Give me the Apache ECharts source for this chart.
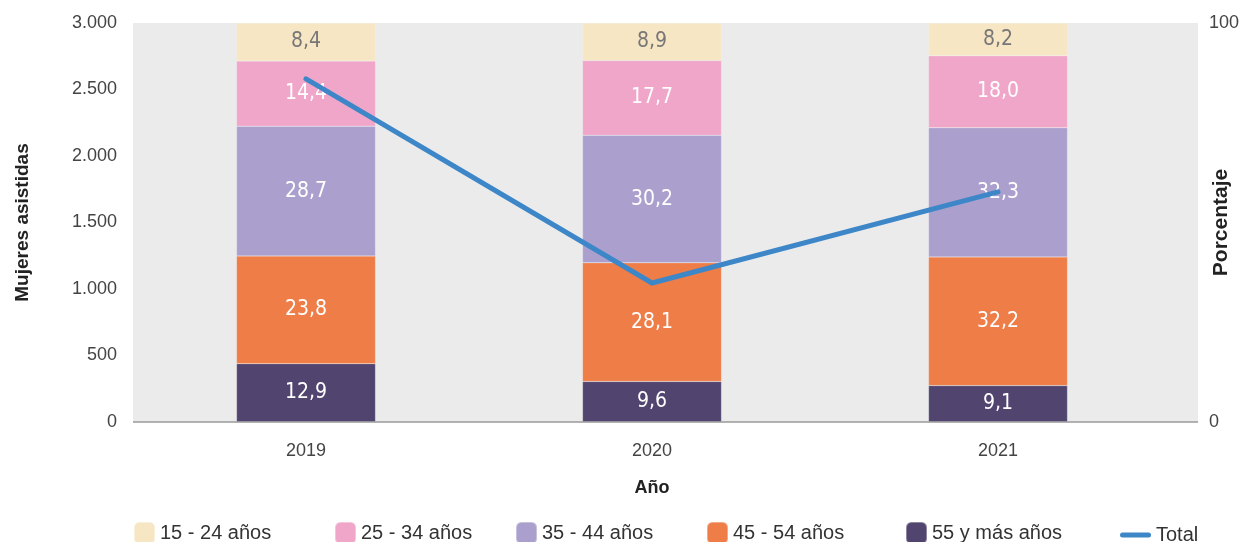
<!DOCTYPE html>
<html>
<head>
<meta charset="utf-8">
<script src="https://cdn.jsdelivr.net/npm/echarts@6/dist/echarts.min.js"></script>
<style>
  html, body { margin: 0; padding: 0; background: #ffffff; }
  #chart { width: 1240px; height: 542px; }
</style>
</head>
<body>
<div id="chart"></div>
<script>
// Data
var years = ['2019', '2020', '2021'];
var ageGroups = ['15 - 24 años', '25 - 34 años', '35 - 44 años', '45 - 54 años', '55 y más años'];
var pct15_24 = [8.4, 8.9, 8.2];
var pct25_34 = [14.4, 17.7, 18.0];
var pct35_44 = [28.7, 30.2, 32.3];
var pct45_54 = [23.8, 28.1, 32.2];
var pct55plus = [12.9, 9.6, 9.1];
var totalWomen = [2580, 1045, 1730];

var groupValues = [pct15_24, pct25_34, pct35_44, pct45_54, pct55plus];
var groupColors = ['#F7E6C4', '#F0A6C9', '#ABA0CD', '#EE7D47', '#514570'];
var labelColors = ['#777777', '#ffffff', '#ffffff', '#ffffff', '#ffffff'];

// bars fill 100% of the right axis: scale each year by its known-age sum
var yearSums = years.map(function (y, i) {
  return groupValues.reduce(function (s, arr) { return s + arr[i]; }, 0);
});

var fmt = function (v) { return v.toFixed(1).replace('.', ','); };

var chart = echarts.init(document.getElementById('chart'));

var barSeries = [];
// stack from bottom (55+) to top (15-24)
for (var g = ageGroups.length - 1; g >= 0; g--) {
  (function (g) {
    barSeries.push({
      name: ageGroups[g],
      type: 'bar',
      stack: 'edad',
      yAxisIndex: 1,
      barWidth: 139,
      itemStyle: { color: groupColors[g], borderColor: 'rgba(255,255,255,0.35)', borderWidth: 0.5 },
      label: {
        show: true,
        position: 'inside',
        color: labelColors[g],
        fontFamily: '"Liberation Sans Narrow", "DejaVu Sans Condensed", sans-serif',
        fontSize: 21,
        formatter: function (p) { return fmt(groupValues[g][p.dataIndex]); }
      },
      emphasis: { disabled: true },
      data: groupValues[g].map(function (v, i) { return v / yearSums[i] * 100; })
    });
  })(g);
}

var tickFont = { color: '#444444', fontSize: 18, fontFamily: '"Liberation Sans", Arial, sans-serif' };
var nameFont = { color: '#222222', fontSize: 19, fontWeight: 'bold', fontFamily: '"Liberation Sans", Arial, sans-serif' };

var legendBase = {
  top: 521,
  padding: 0,
  itemWidth: 21,
  itemHeight: 22,
  itemGap: 13,
  icon: 'roundRect',
  textStyle: { color: '#333333', fontSize: 20, fontFamily: '"Liberation Sans", Arial, sans-serif' }
};
var legendLefts = [133, 334, 515, 706, 905];
var legends = ageGroups.map(function (name, i) {
  return Object.assign({}, legendBase, { left: legendLefts[i], data: [name] });
});
legends.push(Object.assign({}, legendBase, {
  left: 1120, top: 525, itemWidth: 31, itemHeight: 5, itemGap: 3,
  icon: 'path://M2.5,0 L28.5,0 A2.5,2.5 0 0 1 28.5,5 L2.5,5 A2.5,2.5 0 0 1 2.5,0 Z',
  data: ['Total']
}));

var option = {
  backgroundColor: '#ffffff',
  animation: false,
  grid: { left: 133, right: 69, top: 23, bottom: 120, containLabel: false, outerBoundsMode: 'none' },
  graphic: [
    { type: 'rect', z: -10, shape: { x: 133, y: 23, width: 1065, height: 399 }, style: { fill: '#EBEBEB' } },
    { type: 'line', z: 100, shape: { x1: 133, y1: 422, x2: 1198, y2: 422 }, style: { stroke: '#9a9a9a', lineWidth: 1.5 } }
  ],
  legend: legends,
  xAxis: {
    type: 'category',
    data: years,
    name: 'Año',
    nameLocation: 'middle',
    nameGap: 57,
    nameMoveOverlap: false,
    nameTextStyle: Object.assign({}, nameFont, { fontSize: 18 }),
    axisLine: { show: false },
    axisTick: { show: false },
    axisLabel: Object.assign({ margin: 20 }, tickFont)
  },
  yAxis: [
    {
      type: 'value',
      min: 0, max: 3000, interval: 500,
      name: 'Mujeres asistidas',
      nameLocation: 'middle',
      nameGap: 101,
      nameMoveOverlap: false,
      nameTextStyle: nameFont,
      axisLine: { show: false },
      axisTick: { show: false },
      splitLine: { show: false },
      axisLabel: Object.assign({
        margin: 16,
        formatter: function (v) { return v.toString().replace(/\B(?=(\d{3})+(?!\d))/g, '.'); }
      }, tickFont)
    },
    {
      type: 'value',
      min: 0, max: 100, interval: 100,
      name: 'Porcentaje',
      nameLocation: 'middle',
      nameGap: 40,
      nameMoveOverlap: false,
      nameTextStyle: Object.assign({}, nameFont, { fontSize: 21 }),
      axisLine: { show: false },
      axisTick: { show: false },
      splitLine: { show: false },
      axisLabel: Object.assign({ margin: 38 }, tickFont)
    }
  ],
  series: barSeries.concat([{
    name: 'Total',
    type: 'line',
    yAxisIndex: 0,
    z: 10,
    symbol: 'none',
    color: '#3D87C8',
    lineStyle: { color: '#3D87C8', width: 5, cap: 'round', join: 'round' },
    emphasis: { disabled: true },
    data: totalWomen
  }])
};

chart.setOption(option);
</script>
</body>
</html>
